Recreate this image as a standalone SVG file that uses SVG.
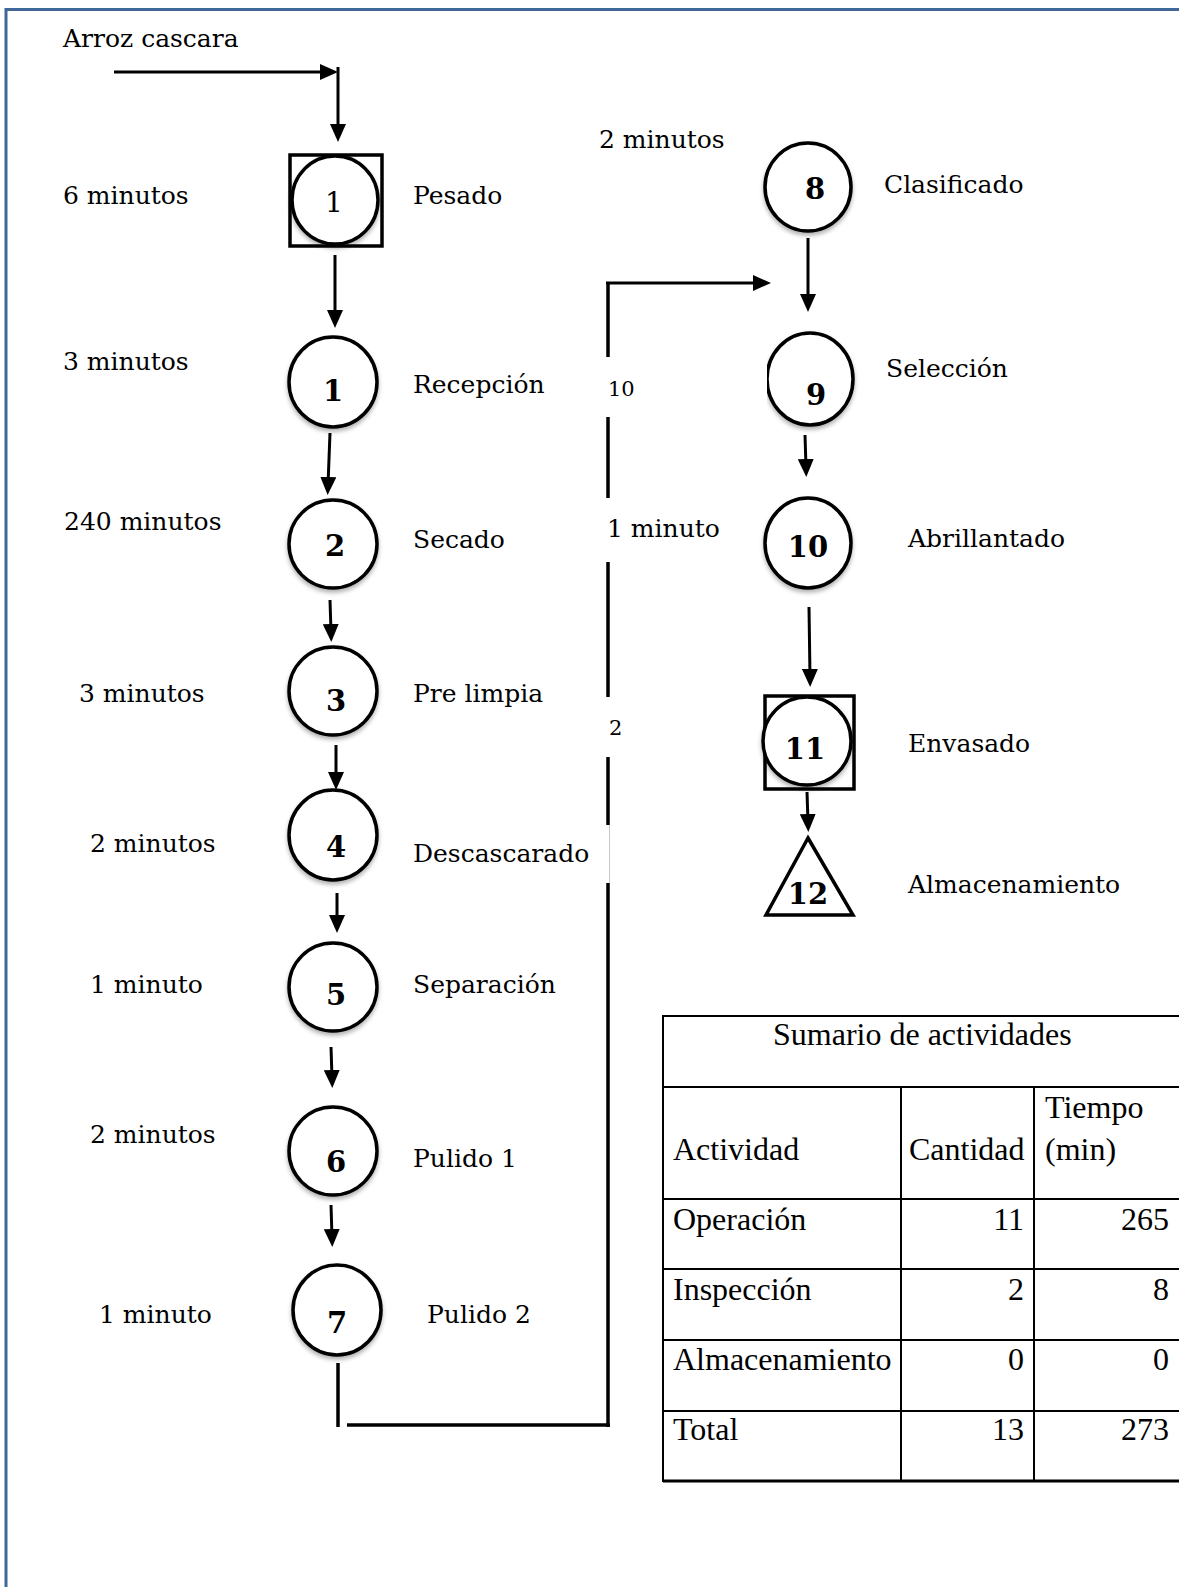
<svg xmlns="http://www.w3.org/2000/svg" width="1179" height="1587" viewBox="0 0 1179 1587">
  <style>
    .lbl { font-family: "DejaVu Serif", "Liberation Serif", serif; font-size: 25px; fill: #000; }
    .sm { font-family: "DejaVu Serif", "Liberation Serif", serif; font-size: 21px; fill: #000; }
    .num { font-family: "DejaVu Serif", "Liberation Serif", serif; font-size: 29px; font-weight: bold; fill: #000; text-anchor: middle; }
    .numr { font-family: "DejaVu Serif", "Liberation Serif", serif; font-size: 28px; fill: #000; text-anchor: middle; }
    .shape { fill: #fff; stroke: #000; stroke-width: 3.5; }
    .ring { fill: #fff; stroke: #000; stroke-width: 3.5; filter: url(#shadow); }
    .wire { fill: none; stroke: #000; stroke-width: 3.5; }
    .arrow { fill: none; stroke: #000; stroke-width: 3; marker-end: url(#head); }
    .grid { stroke: #000; stroke-width: 2; fill: none; }
    .tt { font-family: "Liberation Serif", "Times New Roman", serif; font-size: 32px; fill: #000; }
    .tr { font-family: "Liberation Serif", "Times New Roman", serif; font-size: 32px; fill: #000; text-anchor: end; }
  </style>
  <defs>
    <marker id="head" markerUnits="userSpaceOnUse" markerWidth="18" markerHeight="16" viewBox="0 0 18 16" refX="8" refY="8" orient="auto">
      <path d="M0,0 L18,8 L0,16 z" fill="#000"/>
    </marker>
    <filter id="shadow" x="-20%" y="-20%" width="140%" height="150%">
      <feDropShadow dx="0" dy="3" stdDeviation="2" flood-color="#000" flood-opacity="0.3"/>
    </filter>
    <clipPath id="cut9">
      <rect x="767" y="320" width="120" height="120"/>
    </clipPath>
  </defs>

  <!-- page frame -->
  <path d="M6,1587 V9.5 H1179" fill="none" stroke="#41679a" stroke-width="3"/>

  <!-- connectors -->
  <g id="connectors">
    <line class="arrow" x1="114" y1="72" x2="328" y2="72"/>
    <line class="arrow" x1="338" y1="67" x2="338" y2="132"/>
    <line class="arrow" x1="335" y1="255" x2="335" y2="318"/>
    <line class="arrow" x1="330" y1="433" x2="328" y2="485"/>
    <line class="arrow" x1="330" y1="600" x2="331" y2="632"/>
    <line class="arrow" x1="336" y1="745" x2="336" y2="780"/>
    <line class="arrow" x1="337" y1="893" x2="337" y2="923"/>
    <line class="arrow" x1="331" y1="1047" x2="332" y2="1078"/>
    <line class="arrow" x1="331" y1="1205" x2="332" y2="1237"/>

    <!-- return path from Pulido 2 up to Selección -->
    <line class="wire" x1="338" y1="1363" x2="338" y2="1427"/>
    <line class="wire" x1="347" y1="1425" x2="610" y2="1425"/>
    <line class="wire" x1="608" y1="1427" x2="608" y2="883"/>
    <line x1="609.5" y1="883" x2="609.5" y2="825" stroke="#c8c8c8" stroke-width="1"/>
    <line class="wire" x1="608" y1="825" x2="608" y2="757"/>
    <line class="wire" x1="608" y1="697" x2="608" y2="562"/>
    <line class="wire" x1="608" y1="498" x2="608" y2="417"/>
    <line class="wire" x1="608" y1="357" x2="608" y2="283"/>
    <line class="arrow" x1="606" y1="283" x2="761" y2="283" stroke-width="3.5"/>

    <line class="arrow" x1="808" y1="238" x2="808" y2="302"/>
    <line class="arrow" x1="805" y1="435" x2="806" y2="467"/>
    <line class="arrow" x1="809" y1="607" x2="810" y2="677"/>
    <line class="arrow" x1="807" y1="792" x2="808" y2="822"/>
  </g>

  <!-- flow text without a node -->
  <text class="lbl" x="63" y="47">Arroz cascara</text>
  <text class="sm" x="608" y="396">10</text>
  <text class="lbl" x="607" y="537">1 minuto</text>
  <text class="sm" x="609" y="735">2</text>

  <!-- process steps, left column -->
  <g id="n-pesado">
    <rect class="shape" x="290" y="155" width="92" height="91"/>
    <ellipse class="ring" cx="335" cy="200" rx="43" ry="44"/>
    <text class="numr" x="334" y="212">1</text>
    <text class="lbl" x="63" y="204">6 minutos</text>
    <text class="lbl" x="413" y="204">Pesado</text>
  </g>
  <g id="n-recepcion">
    <ellipse class="ring" cx="333" cy="382" rx="44" ry="45"/>
    <text class="num" x="333" y="401">1</text>
    <text class="lbl" x="63" y="370">3 minutos</text>
    <text class="lbl" x="413" y="393">Recepción</text>
  </g>
  <g id="n-secado">
    <ellipse class="ring" cx="333" cy="544" rx="44" ry="44"/>
    <text class="num" x="335" y="556">2</text>
    <text class="lbl" x="64" y="530">240 minutos</text>
    <text class="lbl" x="413" y="548">Secado</text>
  </g>
  <g id="n-prelimpia">
    <ellipse class="ring" cx="333" cy="691" rx="44" ry="44"/>
    <text class="num" x="336" y="711">3</text>
    <text class="lbl" x="79" y="702">3 minutos</text>
    <text class="lbl" x="413" y="702">Pre limpia</text>
  </g>
  <g id="n-descascarado">
    <ellipse class="ring" cx="333" cy="835" rx="44" ry="45"/>
    <text class="num" x="336" y="857">4</text>
    <text class="lbl" x="90" y="852">2 minutos</text>
    <text class="lbl" x="413" y="862">Descascarado</text>
  </g>
  <g id="n-separacion">
    <ellipse class="ring" cx="333" cy="987" rx="44" ry="44"/>
    <text class="num" x="336" y="1005">5</text>
    <text class="lbl" x="90" y="993">1 minuto</text>
    <text class="lbl" x="413" y="993">Separación</text>
  </g>
  <g id="n-pulido1">
    <ellipse class="ring" cx="333" cy="1151" rx="44" ry="44"/>
    <text class="num" x="336" y="1172">6</text>
    <text class="lbl" x="90" y="1143">2 minutos</text>
    <text class="lbl" x="413" y="1167">Pulido 1</text>
  </g>
  <g id="n-pulido2">
    <ellipse class="ring" cx="337" cy="1310" rx="44" ry="45"/>
    <text class="num" x="337" y="1333">7</text>
    <text class="lbl" x="99" y="1323">1 minuto</text>
    <text class="lbl" x="427" y="1323">Pulido 2</text>
  </g>

  <!-- process steps, right column -->
  <g id="n-clasificado">
    <ellipse class="ring" cx="808" cy="187" rx="43" ry="44"/>
    <text class="num" x="815" y="199">8</text>
    <text class="lbl" x="599" y="148">2 minutos</text>
    <text class="lbl" x="884" y="193">Clasificado</text>
  </g>
  <g id="n-seleccion">
    <ellipse class="ring" cx="810" cy="379" rx="43" ry="46" clip-path="url(#cut9)"/>
    <text class="num" x="816" y="405">9</text>
    <text class="lbl" x="886" y="377">Selección</text>
  </g>
  <g id="n-abrillantado">
    <ellipse class="ring" cx="808" cy="543" rx="43" ry="45"/>
    <text class="num" x="808" y="557">10</text>
    <text class="lbl" x="908" y="547">Abrillantado</text>
  </g>
  <g id="n-envasado">
    <rect class="shape" x="765" y="696" width="89" height="93"/>
    <ellipse class="ring" cx="807" cy="741" rx="44" ry="44"/>
    <text class="num" x="805" y="759">11</text>
    <text class="lbl" x="908" y="752">Envasado</text>
  </g>
  <g id="n-almacenamiento">
    <polygon class="shape" points="808,838 853,915 766,915" stroke-linejoin="miter"/>
    <text class="num" x="808" y="904">12</text>
    <text class="lbl" x="908" y="893">Almacenamiento</text>
  </g>

  <!-- activity summary table -->
  <g id="summary">
    <path class="grid" d="M1185,1016 H663 V1481 H1185"/>
    <path d="M663,1481 H1185" stroke="#000" stroke-width="3"/>
    <path class="grid" d="M663,1087 H1185 M663,1199 H1185 M663,1269 H1185 M663,1340 H1185 M663,1411 H1185"/>
    <path class="grid" d="M901,1087 V1481 M1034,1087 V1481"/>
    <text class="tt" x="773" y="1045">Sumario de actividades</text>
    <text class="tt" x="673" y="1160">Actividad</text>
    <text class="tt" x="909" y="1160">Cantidad</text>
    <text class="tt" x="1045" y="1118">Tiempo</text>
    <text class="tt" x="1045" y="1160">(min)</text>
    <text class="tt" x="673" y="1230">Operación</text>
    <text class="tr" x="1024" y="1230">11</text>
    <text class="tr" x="1169" y="1230">265</text>
    <text class="tt" x="673" y="1300">Inspección</text>
    <text class="tr" x="1024" y="1300">2</text>
    <text class="tr" x="1169" y="1300">8</text>
    <text class="tt" x="673" y="1370">Almacenamiento</text>
    <text class="tr" x="1024" y="1370">0</text>
    <text class="tr" x="1169" y="1370">0</text>
    <text class="tt" x="673" y="1440">Total</text>
    <text class="tr" x="1024" y="1440">13</text>
    <text class="tr" x="1169" y="1440">273</text>
  </g>
</svg>
